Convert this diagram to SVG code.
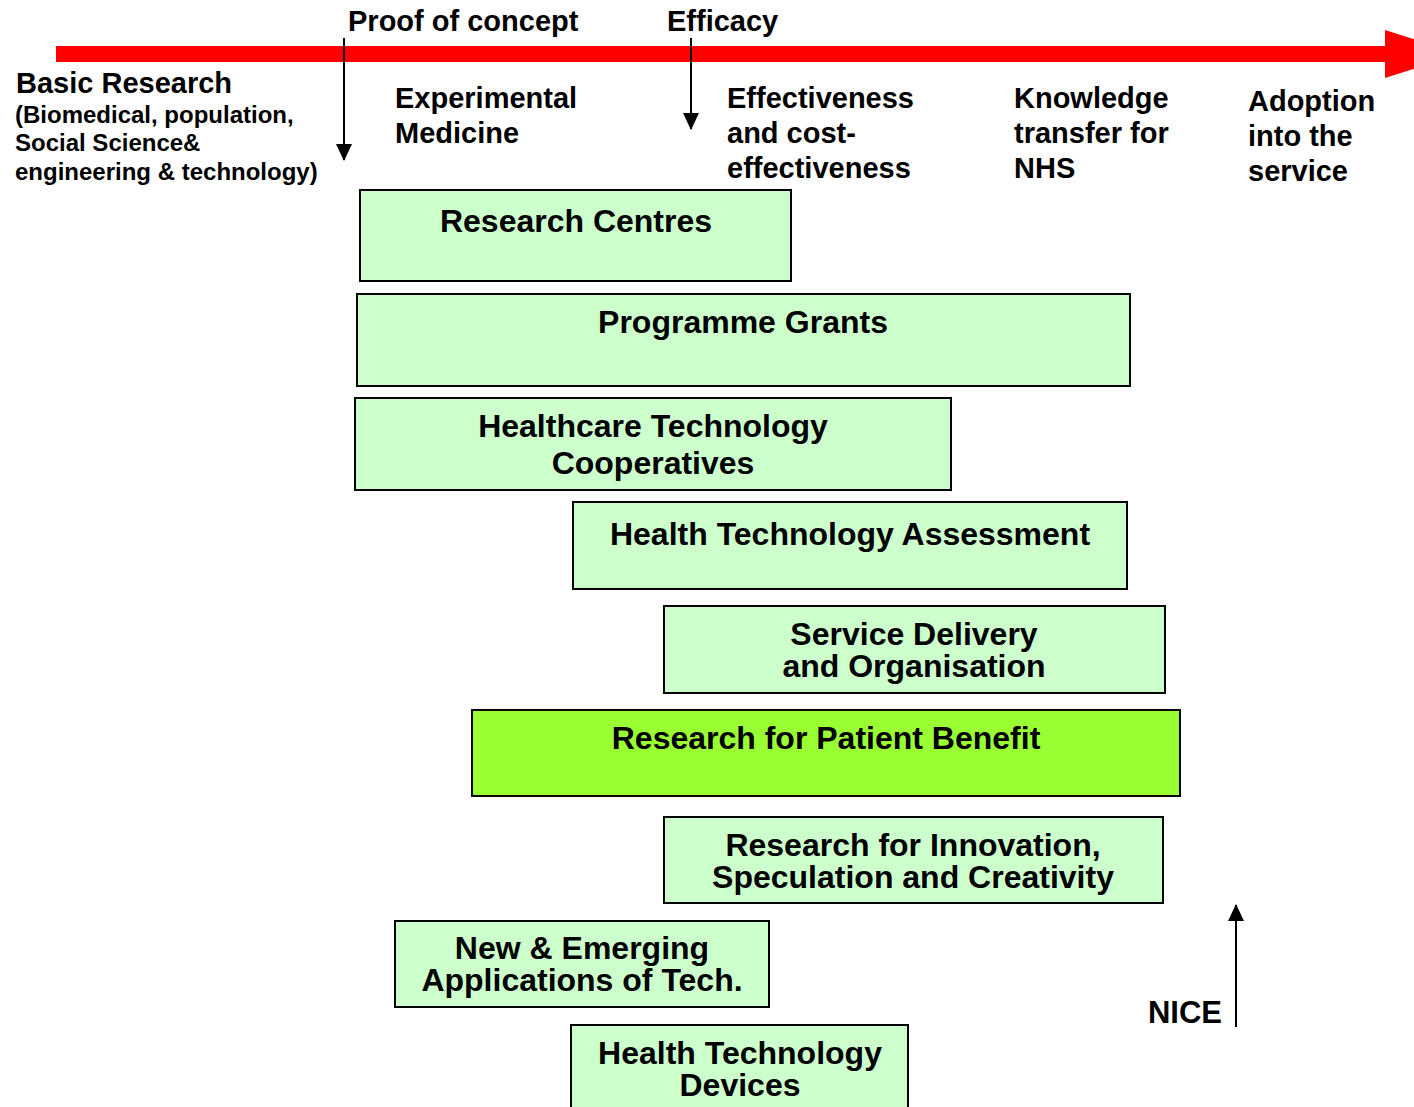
<svg xmlns="http://www.w3.org/2000/svg" width="1414" height="1107" viewBox="0 0 1414 1107">
<style>
text{font-family:"Liberation Sans",Arial,Helvetica,sans-serif;font-weight:bold;fill:#000}
.lbl{font-size:29px}
.small{font-size:24px}
.box{fill:#CCFFCC;stroke:#000;stroke-width:2}
.hl{fill:#99FF33}
.bt{font-size:32px;text-anchor:middle}
.conn{stroke:#000;stroke-width:2;fill:none}
</style>
<defs>
<marker id="ah" markerUnits="userSpaceOnUse" markerWidth="18" markerHeight="18" viewBox="0 0 18 18" refX="16" refY="9" orient="auto">
<path d="M0,1 L17,9 L0,17 Z" fill="#000"/>
</marker>
</defs>
<rect width="1414" height="1107" fill="#fff"/>
<path id="timeline" d="M56,46 H1385 V30 L1460,54 L1385,78 V62 H56 Z" fill="#FF0000"/>
<g id="connectors">
<line class="conn" x1="344" y1="38" x2="344" y2="160" marker-end="url(#ah)"/>
<line class="conn" x1="691" y1="38" x2="691" y2="129" marker-end="url(#ah)"/>
<line class="conn" x1="1236" y1="1027" x2="1236" y2="905" marker-end="url(#ah)"/>
</g>
<g id="labels">
<text class="lbl" x="348" y="31">Proof of concept</text>
<text class="lbl" x="667" y="31">Efficacy</text>
<text class="lbl" x="16" y="93">Basic Research</text>
<text class="small" x="15" y="123">(Biomedical, population,</text>
<text class="small" x="15" y="151">Social Science&amp;</text>
<text class="small" x="15" y="180">engineering &amp; technology)</text>
<text class="lbl" x="395" y="108">Experimental</text>
<text class="lbl" x="395" y="143">Medicine</text>
<text class="lbl" x="727" y="108">Effectiveness</text>
<text class="lbl" x="727" y="143">and cost-</text>
<text class="lbl" x="727" y="178">effectiveness</text>
<text class="lbl" x="1014" y="108">Knowledge</text>
<text class="lbl" x="1014" y="143">transfer for</text>
<text class="lbl" x="1014" y="178">NHS</text>
<text class="lbl" x="1248" y="111">Adoption</text>
<text class="lbl" x="1248" y="146">into the</text>
<text class="lbl" x="1248" y="181">service</text>
<text class="bt" x="1185" y="1023" style="font-size:31px">NICE</text>
</g>
<g id="research-centres">
<rect class="box" x="360" y="190" width="431" height="91"/>
<text class="bt" x="576" y="232">Research Centres</text>
</g>
<g id="programme-grants">
<rect class="box" x="357" y="294" width="773" height="92"/>
<text class="bt" x="743" y="333">Programme Grants</text>
</g>
<g id="htc">
<rect class="box" x="355" y="398" width="596" height="92"/>
<text class="bt" x="653" y="437">Healthcare Technology</text>
<text class="bt" x="653" y="474">Cooperatives</text>
</g>
<g id="hta">
<rect class="box" x="573" y="502" width="554" height="87"/>
<text class="bt" x="850" y="545">Health Technology Assessment</text>
</g>
<g id="sdo">
<rect class="box" x="664" y="606" width="501" height="87"/>
<text class="bt" x="914" y="645">Service Delivery</text>
<text class="bt" x="914" y="677">and Organisation</text>
</g>
<g id="rfpb">
<rect class="box hl" x="472" y="710" width="708" height="86"/>
<text class="bt" x="826" y="749">Research for Patient Benefit</text>
</g>
<g id="risc">
<rect class="box" x="664" y="817" width="499" height="86"/>
<text class="bt" x="913" y="856">Research for Innovation,</text>
<text class="bt" x="913" y="888">Speculation and Creativity</text>
</g>
<g id="neat">
<rect class="box" x="395" y="921" width="374" height="86"/>
<text class="bt" x="582" y="959">New &amp; Emerging</text>
<text class="bt" x="582" y="991">Applications of Tech.</text>
</g>
<g id="htd">
<rect class="box" x="571" y="1025" width="337" height="90"/>
<text class="bt" x="740" y="1064">Health Technology</text>
<text class="bt" x="740" y="1096">Devices</text>
</g>
</svg>
